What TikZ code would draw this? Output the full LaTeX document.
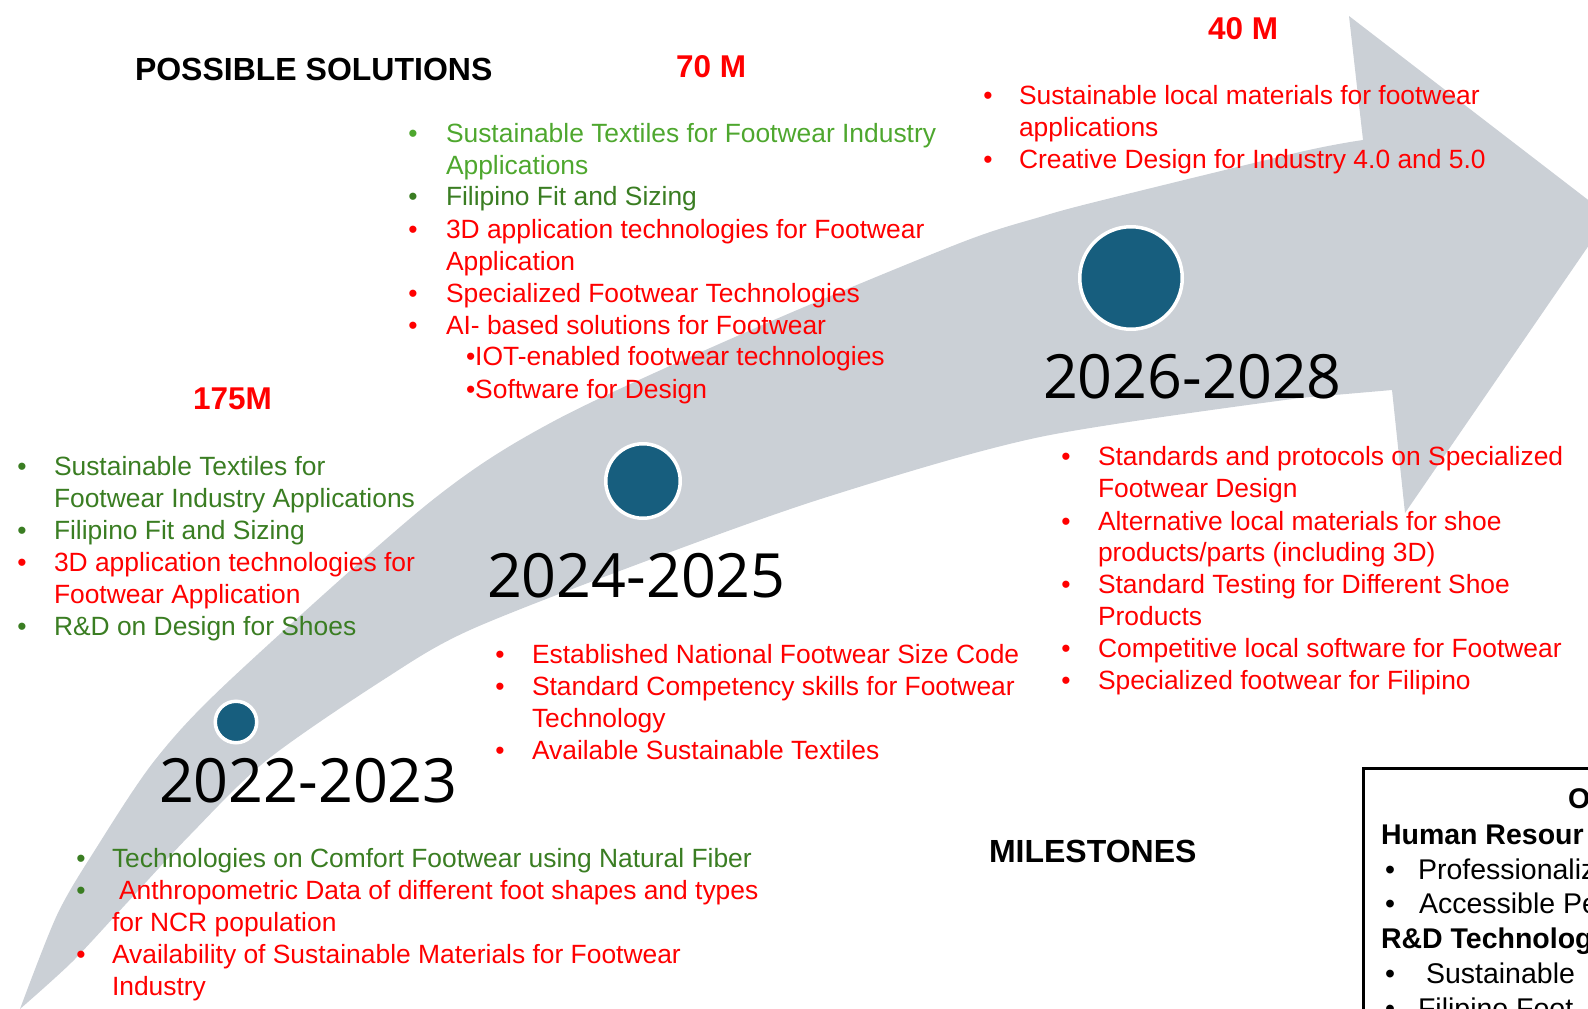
\documentclass[tikz,border=0pt]{standalone}
\usepackage{fontspec}
\setmainfont{Liberation Sans}
\newfontfamily\yearfont{Open Sans}
\definecolor{arrowgrey}{RGB}{203,208,214}
\definecolor{circblue}{RGB}{23,94,126}
\definecolor{pred}{RGB}{255,0,0}
\definecolor{greenD}{RGB}{58,125,34}
\definecolor{greenL}{RGB}{78,167,46}
\tikzset{
  txt/.style={anchor=base west, inner sep=0pt, outer sep=0pt, font=\fontsize{26.4}{32}\selectfont},
  bul/.style={anchor=base, inner sep=0pt, outer sep=0pt, font=\fontsize{26.4}{32}\selectfont},
  hdr/.style={anchor=base west, inner sep=0pt, outer sep=0pt, font=\bfseries\fontsize{32}{38}\selectfont},
  money/.style={anchor=base west, inner sep=0pt, outer sep=0pt, text=pred, font=\bfseries\fontsize{31.5}{38}\selectfont},
  year/.style={anchor=base west, inner sep=0pt, outer sep=0pt, font=\yearfont\fontsize{61}{70}\selectfont},
  boxb/.style={anchor=base west, inner sep=0pt, outer sep=0pt, font=\bfseries\fontsize{28.5}{35}\selectfont},
  boxt/.style={anchor=base west, inner sep=0pt, outer sep=0pt, font=\fontsize{28.5}{35}\selectfont},
  boxbul/.style={anchor=base, inner sep=0pt, outer sep=0pt, font=\fontsize{28.5}{35}\selectfont},
  dotc/.style={circle, fill=circblue, draw=white, inner sep=0pt, outer sep=0pt},
}
\begin{document}
\begin{tikzpicture}[x=1pt,y=-1pt]
\path[use as bounding box] (0,0) rectangle (1588,1009);
\clip (0,0) rectangle (1588,1009);
% big curved arrow
\fill[arrowgrey] plot[smooth,tension=0.5] coordinates {(20,1009) (57,915) (95,850) (155,760) (230,680) (430,502) (556,420) (760,326) (960,243) (1040,217) (1103,200) (1300,152) (1363,140)}
  -- (1349,16) -- (1609,216) -- (1405,513) -- (1392,390)
  -- plot[smooth,tension=0.5] coordinates {(1300,398) (1040,437) (827,497) (649,560) (470,630) (383,680) (267,760) (190,835) (125,905) (72,962) (20,1009)} -- cycle;
% circles
\node[dotc, minimum size=41.5pt, line width=3.5pt] (c1) at (236,722) {};
\node[dotc, minimum size=74.5pt, line width=3.5pt] (c2) at (643,481) {};
\node[dotc, minimum size=102.5pt, line width=3.5pt] (c3) at (1131,278) {};
% years
\node[year] (y1) at (159,802) {2022-2023};
\node[year] (y2) at (487,597) {2024-2025};
\node[year] (y3) at (1043,398) {2026-2028};
% headers
\node[hdr] (hsol) at (135,80) {POSSIBLE SOLUTIONS};
\node[hdr] (hmil) at (989,862) {MILESTONES};
\node[money] (m70) at (676,77) {70 M};
\node[money] (m40) at (1208,39) {40 M};
\node[money] (m175) at (193,409) {175M};
% list 1 (175M)
\node[bul,text=greenD] (a1b) at (22,475) {•};
\node[txt,text=greenD] (a1) at (54,475) {Sustainable Textiles for};
\node[txt,text=greenD] (a1c) at (54,507) {Footwear Industry Applications};
\node[bul,text=greenD] (a2b) at (22,539) {•};
\node[txt,text=greenD] (a2) at (54,539) {Filipino Fit and Sizing};
\node[bul,text=pred] (a3b) at (22,571) {•};
\node[txt,text=pred] (a3) at (54,571) {3D application technologies for};
\node[txt,text=pred] (a3c) at (54,603) {Footwear Application};
\node[bul,text=greenD] (a4b) at (22,635) {•};
\node[txt,text=greenD] (a4) at (54,635) {R\&D on Design for Shoes};
% list 2 (70 M)
\node[bul,text=greenL] (b1b) at (413,142) {•};
\node[txt,text=greenL] (b1) at (446,142) {Sustainable Textiles for Footwear Industry};
\node[txt,text=greenL] (b1c) at (446,174) {Applications};
\node[bul,text=greenD] (b2b) at (413,205.5) {•};
\node[txt,text=greenD] (b2) at (446,205.5) {Filipino Fit and Sizing};
\node[bul,text=pred] (b3b) at (413,238) {•};
\node[txt,text=pred] (b3) at (446,238) {3D application technologies for Footwear};
\node[txt,text=pred] (b3c) at (446,270) {Application};
\node[bul,text=pred] (b4b) at (413,302) {•};
\node[txt,text=pred] (b4) at (446,302) {Specialized Footwear Technologies};
\node[bul,text=pred] (b5b) at (413,334) {•};
\node[txt,text=pred] (b5) at (446,334) {AI- based solutions for Footwear};
\node[txt,text=pred] (b6) at (466,365.5) {•IOT-enabled footwear technologies};
\node[txt,text=pred] (b7) at (466,398) {•Software for Design};
% list 3 (40 M)
\node[bul,text=pred] (d1b) at (988,104) {•};
\node[txt,text=pred] (d1) at (1019,104) {Sustainable local materials for footwear};
\node[txt,text=pred] (d1c) at (1019,136) {applications};
\node[bul,text=pred] (d2b) at (988,168) {•};
\node[txt,text=pred] (d2) at (1019,168) {Creative Design for Industry 4.0 and 5.0};
% list 4 (2024-2025)
\node[bul,text=pred] (e1b) at (500,663) {•};
\node[txt,text=pred] (e1) at (532,663) {Established National Footwear Size Code};
\node[bul,text=pred] (e2b) at (500,695) {•};
\node[txt,text=pred] (e2) at (532,695) {Standard Competency skills for Footwear};
\node[txt,text=pred] (e2c) at (532,727) {Technology};
\node[bul,text=pred] (e3b) at (500,759.5) {•};
\node[txt,text=pred] (e3) at (532,759.5) {Available Sustainable Textiles};
% list 5 (2026-2028)
\node[bul,text=pred] (f1b) at (1066,465) {•};
\node[txt,text=pred] (f1) at (1098,465) {Standards and protocols on Specialized};
\node[txt,text=pred] (f1c) at (1098,497) {Footwear Design};
\node[bul,text=pred] (f2b) at (1066,530) {•};
\node[txt,text=pred] (f2) at (1098,530) {Alternative local materials for shoe};
\node[txt,text=pred] (f2c) at (1098,561) {products/parts (including 3D)};
\node[bul,text=pred] (f3b) at (1066,593) {•};
\node[txt,text=pred] (f3) at (1098,593) {Standard Testing for Different Shoe};
\node[txt,text=pred] (f3c) at (1098,625) {Products};
\node[bul,text=pred] (f4b) at (1066,657) {•};
\node[txt,text=pred] (f4) at (1098,657) {Competitive local software for Footwear};
\node[bul,text=pred] (f5b) at (1066,689) {•};
\node[txt,text=pred] (f5) at (1098,689) {Specialized footwear for Filipino};
% list 6 (2022-2023)
\node[bul,text=greenD] (g1b) at (81,867) {•};
\node[txt,text=greenD] (g1) at (112,867) {Technologies on Comfort Footwear using Natural Fiber};
\node[bul,text=greenD] (g2b) at (81,899) {•};
\node[txt,text=pred] (g2) at (119,899) {Anthropometric Data of different foot shapes and types};
\node[txt,text=pred] (g2c) at (112,931) {for NCR population};
\node[bul,text=pred] (g3b) at (81,963) {•};
\node[txt,text=pred] (g3) at (112,963) {Availability of Sustainable Materials for Footwear};
\node[txt,text=pred] (g3c) at (112,995) {Industry};
% outcome box (cut by the right edge, as in the reference)
\draw[line width=3pt] (1363,768) rectangle (1640,1060);
\node[boxb] (o0) at (1568,808) {O};
\node[boxb] (o1) at (1381,844) {Human Resour};
\node[boxbul] (o2b) at (1390,879) {•};
\node[boxt] (o2) at (1418,879) {Professionaliz};
\node[boxbul] (o3b) at (1390,913) {•};
\node[boxt] (o3) at (1419,913) {Accessible Pe};
\node[boxb] (o4) at (1381,948.5) {R\&D Technolog};
\node[boxbul] (o5b) at (1390,983) {•};
\node[boxt] (o5) at (1426,983) {Sustainable};
\node[boxbul] (o6b) at (1390,1018) {•};
\node[boxt] (o6) at (1418,1018) {Filipino Foot};
\end{tikzpicture}
\end{document}
